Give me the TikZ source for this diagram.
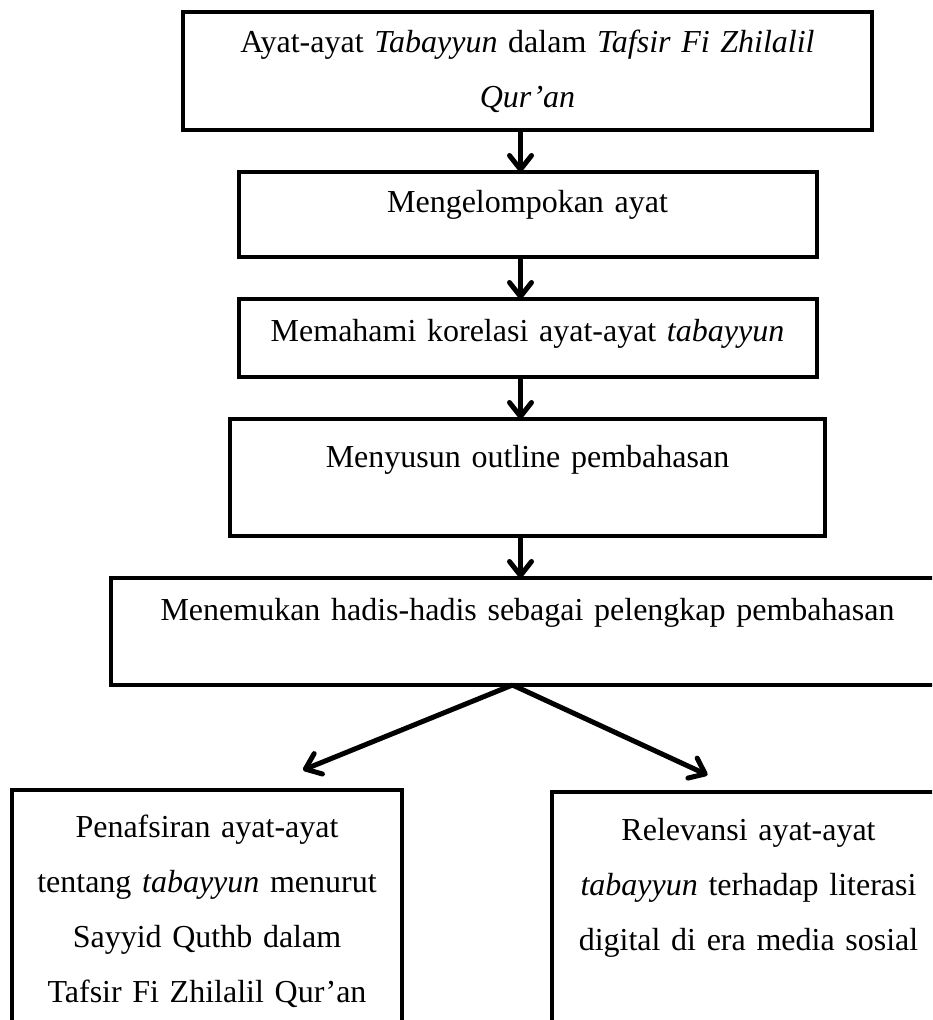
\documentclass[tikz,border=0pt]{standalone}
\usepackage{fontspec}
\setmainfont{Liberation Serif}
\usepackage{tikz}
\usetikzlibrary{arrows.meta,positioning}

\begin{document}
\begin{tikzpicture}[x=0.5pt,y=-0.5pt,
box/.style={draw,line width=2pt,inner sep=0pt,outer sep=0pt,align=center,font=\fontsize{16}{27.5}\selectfont},
arr/.style={-{Straight Barb[length=7pt,width=11pt,round]},line width=2.5pt}
]
\useasboundingbox (0,0) rectangle (932,1020);
\clip (0,0) rectangle (932,1020);
\node[box,anchor=north,text width=344.5pt,text height=20.5pt,text depth=38.5pt] (a) at (527.5,12)
  {Ayat-ayat \textit{Tabayyun} dalam \textit{Tafsir Fi Zhilalil}\\ \textit{Qur’an}};
\node[box,below=21pt of a,text width=289pt,text height=20.5pt,text depth=22pt] (b) {Mengelompokan ayat};
\node[box,below=21pt of b,text width=289pt,text height=21.5pt,text depth=17.5pt] (c) {Memahami korelasi ayat-ayat \textit{tabayyun}};
\node[box,below=21pt of c,text width=297.5pt,text height=24pt,text depth=34.5pt] (d) {Menyusun outline pembahasan};
\node[box,below=21pt of d,text width=417pt,text height=21pt,text depth=32.5pt] (e) {Menemukan hadis-hadis sebagai pelengkap pembahasan};
\node[box,anchor=north,text width=195pt,text height=23.5pt,text depth=101.5pt] (f) at (207,790)
  {Penafsiran ayat-ayat\\ tentang \textit{tabayyun} menurut\\ Sayyid Quthb dalam\\ Tafsir Fi Zhilalil Qur’an};
\node[box,anchor=north,text width=196.5pt,text height=24pt,text depth=100pt] (g) at (748.5,792)
  {Relevansi ayat-ayat\\ \textit{tabayyun} terhadap literasi\\ digital di era media sosial};
\foreach \x/\y in {a/b,b/c,c/d,d/e}
\draw[arr] ([xshift=-3.5pt]\x.south) -- ([xshift=-3.5pt]\y.north);
\coordinate (pisah) at ([xshift=-7.5pt]e.south);
\coordinate (ujungf) at ([xshift=48pt,yshift=10pt]f.north);
\coordinate (ujungg) at ([xshift=-20.5pt,yshift=8.5pt]g.north);
\draw[arr] (pisah) -- (ujungf);
\draw[arr] (pisah) -- (ujungg);
\end{tikzpicture}
\end{document}
